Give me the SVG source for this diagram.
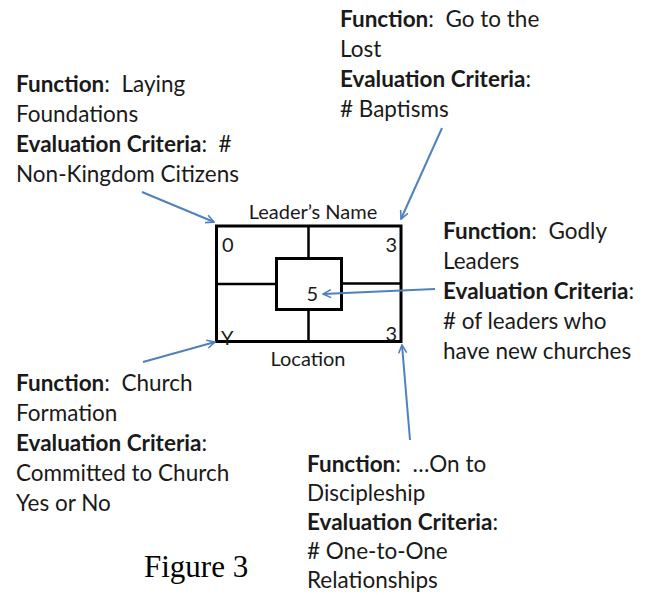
<svg xmlns="http://www.w3.org/2000/svg" width="657" height="595" viewBox="0 0 657 595">
<style>
.t{font-family:Lato,"Liberation Sans",sans-serif;font-size:22.5px;fill:#1a1a1a;white-space:pre}
.b{font-weight:bold}
.s{font-family:Lato,"Liberation Sans",sans-serif;font-size:20px;fill:#1a1a1a}
.box{fill:none;stroke:#000;stroke-width:3}
.ln{stroke:#000;stroke-width:2.5}
.ar{stroke:#4f81bd;stroke-width:2;fill:none;marker-end:url(#ah)}
</style>
<defs>
<marker id="ah" viewBox="0 0 10 10" refX="9" refY="5" markerWidth="5" markerHeight="5" orient="auto" markerUnits="strokeWidth">
<polyline points="1,1 9,5 1,9" fill="none" stroke="#4f81bd" stroke-width="1.6"/>
</marker>
</defs>
<rect width="657" height="595" fill="#fff"/>
<g id="grid">
<rect class="box" x="216.5" y="226" width="184.5" height="115.5"/>
<line class="ln" x1="308.5" y1="226" x2="308.5" y2="258.5"/>
<line class="ln" x1="308.5" y1="309.5" x2="308.5" y2="341.5"/>
<line class="ln" x1="216.5" y1="284" x2="276.5" y2="284"/>
<line class="ln" x1="341.5" y1="283.5" x2="401" y2="283.5"/>
<rect class="box" x="276.5" y="258.5" width="65" height="51"/>
<text class="s" x="222" y="252">0</text>
<text class="s" x="397" y="252" text-anchor="end">3</text>
<text class="s" x="318" y="301" text-anchor="end">5</text>
<text class="s" x="221" y="345">Y</text>
<text class="s" x="397" y="341" text-anchor="end">3</text>
<text class="s" x="313" y="219" text-anchor="middle">Leader’s Name</text>
<text class="s" x="308" y="366" text-anchor="middle">Location</text>
</g>
<g id="n-foundations">
<text class="t" x="16" y="92"><tspan class="b">Function</tspan>:  Laying</text>
<text class="t" x="16" y="122">Foundations</text>
<text class="t" x="16" y="152"><tspan class="b">Evaluation Criteria</tspan>:  #</text>
<text class="t" x="16" y="182">Non-Kingdom Citizens</text>
</g>
<g id="n-lost">
<text class="t" x="340" y="27"><tspan class="b">Function</tspan>:  Go to the</text>
<text class="t" x="340" y="57">Lost</text>
<text class="t" x="340" y="87"><tspan class="b">Evaluation Criteria</tspan>:</text>
<text class="t" x="340" y="117"># Baptisms</text>
</g>
<g id="n-leaders">
<text class="t" x="443" y="239"><tspan class="b">Function</tspan>:  Godly</text>
<text class="t" x="443" y="269">Leaders</text>
<text class="t" x="443" y="299"><tspan class="b">Evaluation Criteria</tspan>:</text>
<text class="t" x="443" y="329"># of leaders who</text>
<text class="t" x="443" y="359">have new churches</text>
</g>
<g id="n-church">
<text class="t" x="16" y="391"><tspan class="b">Function</tspan>:  Church</text>
<text class="t" x="16" y="421">Formation</text>
<text class="t" x="16" y="451"><tspan class="b">Evaluation Criteria</tspan>:</text>
<text class="t" x="16" y="481">Committed to Church</text>
<text class="t" x="16" y="511">Yes or No</text>
</g>
<g id="n-disciple">
<text class="t" x="307" y="472"><tspan class="b">Function</tspan>:  …On to</text>
<text class="t" x="307" y="501">Discipleship</text>
<text class="t" x="307" y="530"><tspan class="b">Evaluation Criteria</tspan>:</text>
<text class="t" x="307" y="559"># One-to-One</text>
<text class="t" x="307" y="588">Relationships</text>
</g>
<text x="144" y="577" style="font-family:'Liberation Serif',serif;font-size:31px;fill:#000">Figure 3</text>
<g id="connectors">
<line class="ar" x1="142" y1="192" x2="214" y2="222"/>
<line class="ar" x1="442" y1="128" x2="401" y2="219"/>
<line class="ar" x1="435" y1="289" x2="323" y2="294"/>
<line class="ar" x1="143" y1="362" x2="215" y2="342"/>
<line class="ar" x1="410" y1="440" x2="402" y2="345"/>
</g>
</svg>
